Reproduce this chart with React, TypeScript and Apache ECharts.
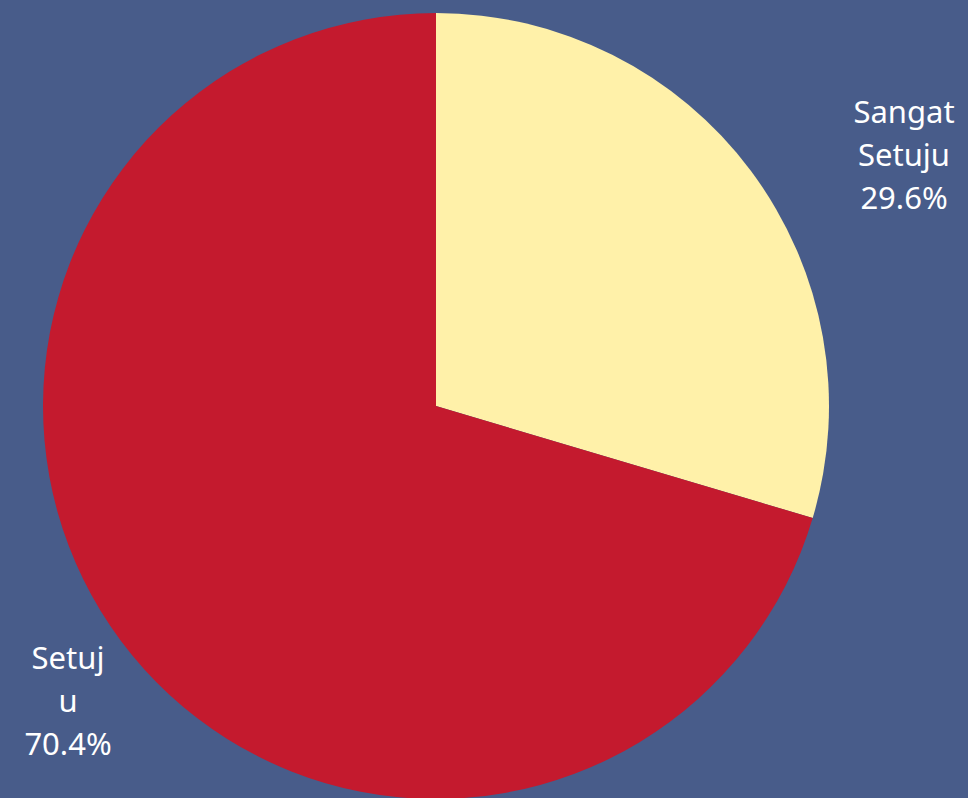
import React, { useEffect, useRef } from "react";
import * as echarts from "echarts";

const categories = ["Sangat Setuju", "Setuju"];
const labelTexts = ["Sangat\nSetuju", "Setuj\nu"];
const values = [29.6, 70.4];
const colors = ["#fff1a9", "#c41a2e"];

export default function App() {
  const ref = useRef<HTMLDivElement>(null);
  useEffect(() => {
    document.body.style.margin = "0";
    const chart = echarts.init(ref.current!, undefined, { renderer: "svg" });
    const labelPos = [
      { x: 904, y: 154 },
      { x: 68, y: 700 },
    ];
    chart.setOption({
      animation: false,
      backgroundColor: "#485c8a",
      series: [
        {
          type: "pie",
          center: [436, 406],
          radius: 393,
          startAngle: 90,
          clockwise: true,
          data: categories.map((name, i) => ({
            name,
            value: values[i],
            itemStyle: { color: colors[i] },
          })),
          label: {
            show: true,
            position: "inside",
            overflow: "none",
            formatter: (p: any) =>
              `${labelTexts[p.dataIndex]}\n${p.value.toFixed(1)}%`,
            color: "#ffffff",
            fontSize: 31,
            lineHeight: 43,
            fontFamily: "Noto Sans",
            align: "center",
          },
          labelLine: { show: false },
          labelLayout: (params: any) => ({
            x: labelPos[params.dataIndex].x,
            y: labelPos[params.dataIndex].y,
            align: "center",
            verticalAlign: "middle",
          }),
        },
      ],
    });
    return () => chart.dispose();
  }, []);
  return (
    <div
      ref={ref}
      style={{ position: "absolute", left: 0, top: 0, width: 968, height: 798 }}
    />
  );
}
